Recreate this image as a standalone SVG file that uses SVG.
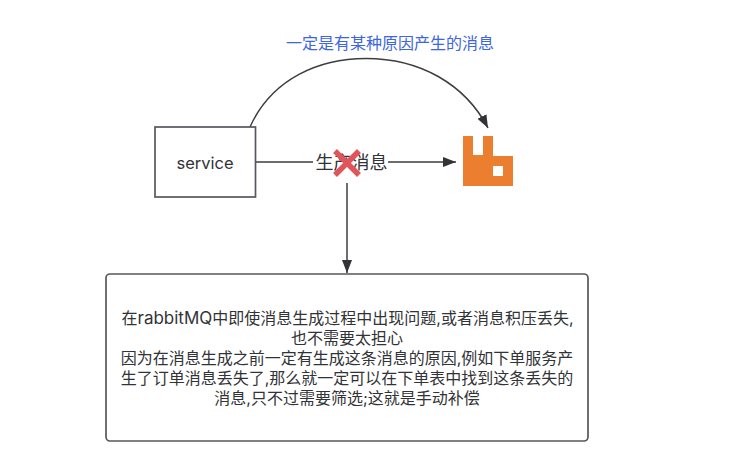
<svg xmlns="http://www.w3.org/2000/svg" width="736" height="473" viewBox="0 0 736 473">
<style>
text{font-family:"Inter","Noto Sans CJK SC",sans-serif;fill:#323337;font-size:16px;text-anchor:middle}
.box{fill:#fff;stroke:#55585e;stroke-width:1.7}
.conn{fill:none;stroke:#3c3d40;stroke-width:1.5}
.x{stroke:#e0555a;stroke-width:5.500;fill:none}
</style>
<defs>
<marker id="arr" viewBox="0 0 13 10" refX="13" refY="5" markerWidth="13" markerHeight="10" markerUnits="userSpaceOnUse" orient="auto"><path d="M0 0L13 5L0 10Z" fill="#323337"/></marker>
</defs>
<rect width="736" height="473" fill="#fff"/>
<g id="connectors">
<path class="conn" d="M250 127C272 78 320 58.500 366 58.500C420 58.500 465 84 488 128" marker-end="url(#arr)"/>
<path class="conn" d="M255 162H313"/>
<path class="conn" d="M388 162H456" marker-end="url(#arr)"/>
<path class="conn" d="M347 183V273" marker-end="url(#arr)"/>
</g>
<g id="service"><rect class="box" x="155" y="127" width="100.500" height="70"/><text x="205" y="168.500" style="font-size:16.500px">service</text></g>
<g id="rabbit"><path fill="#ec7e2f" fill-rule="evenodd" d="M463 136H473V155H483V136H493V156H513V186H463ZM493 166V176H503V166Z"/></g>
<g id="label-top"><text x="390" y="49" style="fill:#3d66e0">一定是有某种原因产生的消息</text></g>
<g id="label-mid"><text x="351.500" y="169" style="font-size:18px">生产消息</text></g>
<g id="cross"><path class="x" d="M335 151L359 175M359 151L335 175"/></g>
<g id="note"><rect class="box" x="106" y="274" width="482" height="167" rx="4"/>
<text x="347.500" y="323.500"><tspan>在</tspan><tspan style="font-size:17px">rabbitMQ</tspan><tspan>中即使消息生成过程中出现问题,或者消息积压丢失,</tspan></text>
<text x="347" y="344">也不需要太担心</text>
<text x="347" y="364">因为在消息生成之前一定有生成这条消息的原因,例如下单服务产</text>
<text x="347" y="384">生了订单消息丢失了,那么就一定可以在下单表中找到这条丢失的</text>
<text x="347" y="404">消息,只不过需要筛选;这就是手动补偿</text></g>
</svg>
